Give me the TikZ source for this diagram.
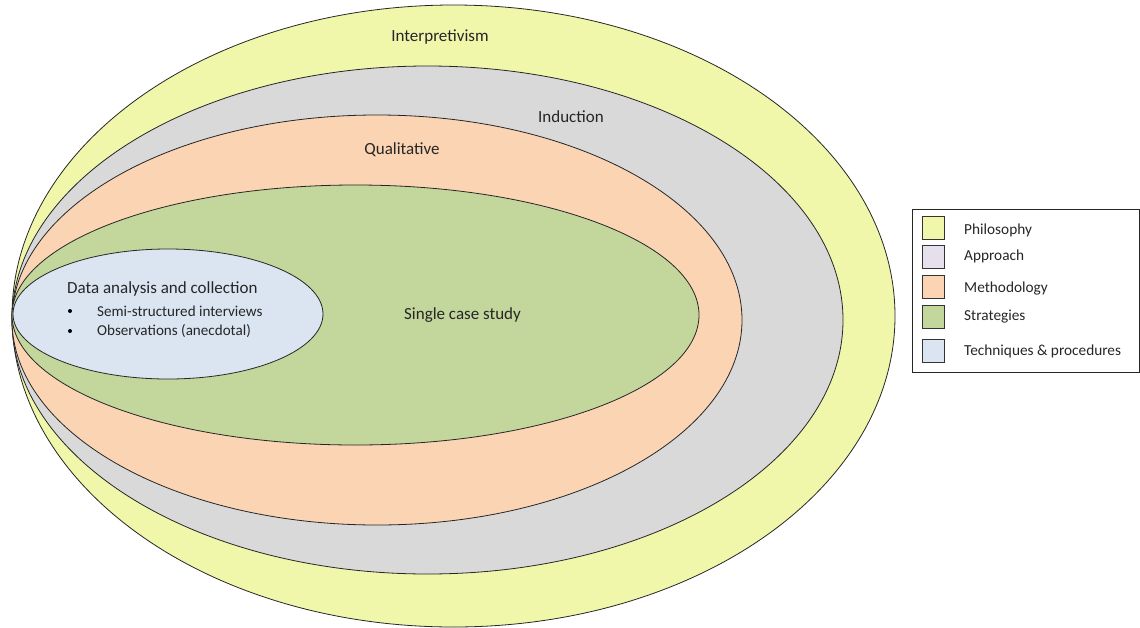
\documentclass[tikz,border=0pt]{standalone}
\usepackage{fontspec}
\setmainfont{Carlito}
\usetikzlibrary{shapes.geometric}
\definecolor{cyel}{HTML}{F0F7AA}
\definecolor{cgray}{HTML}{D9D9D9}
\definecolor{corange}{HTML}{FBD4B4}
\definecolor{cgreen}{HTML}{C3D69B}
\definecolor{cblue}{HTML}{DBE5F1}
\definecolor{clav}{HTML}{E5E0EC}
\definecolor{ctext}{HTML}{262626}
\begin{document}
\begin{tikzpicture}[x=1pt,y=-1pt,
  ring/.style={ellipse, draw=black!85, line width=0.8pt, inner sep=0pt, outer sep=0pt},
  lbl/.style={font=\fontsize{17}{20}\selectfont, text=ctext, inner sep=0pt},
  leg/.style={font=\fontsize{15.3}{18}\selectfont, text=ctext, inner sep=0pt},
  big/.style={font=\fontsize{17}{20}\selectfont, text=ctext, inner sep=0pt},
  small/.style={font=\fontsize{15.1}{18}\selectfont, text=ctext, inner sep=0pt},
  sw/.style={draw=black!80, line width=0.8pt, minimum width=22pt, minimum height=23pt, inner sep=0pt, outer sep=0pt}]
\useasboundingbox (0,0) rectangle (1140,627);
\node[ring, fill=cyel, minimum width=883pt, minimum height=622pt] (phil) at (453.5,316) {};
\node[ring, fill=cgray, minimum width=831pt, minimum height=508pt] (appr) at (427.5,320) {};
\node[ring, fill=corange, minimum width=730pt, minimum height=410pt] (meth) at (377,320) {};
\node[ring, fill=cgreen, minimum width=687pt, minimum height=260pt] (strat) at (355.5,315) {};
\node[ring, fill=cblue, minimum width=310pt, minimum height=130pt] (tech) at (168,314) {};
\node[lbl] (tphil) at (440,37) {Interpretivism};
\node[lbl] (tappr) at (571,117) {Induction};
\node[lbl] (tmeth) at (402,150) {Qualitative};
\node[lbl] (tstrat) at (462.5,315) {Single case study};
\node[big, anchor=west] (tdata) at (67,289) {Data analysis and collection};
\node[small, anchor=west] (b1) at (97,311) {Semi-structured interviews};
\node[small, anchor=west] (b2) at (97,331) {Observations (anecdotal)};
\fill[black] (70,311) circle (2pt) coordinate (d1);
\fill[black] (70,331) circle (2pt) coordinate (d2);
% legend
\node[draw=black!85, line width=0.8pt, minimum width=227pt, minimum height=163pt, inner sep=0pt] (legend) at (1025.5,290.5) {};
\node[sw, fill=cyel] (s1) at (933.5,228) {};
\node[sw, fill=clav] (s2) at (933.5,257) {};
\node[sw, fill=corange] (s3) at (933.5,287) {};
\node[sw, fill=cgreen] (s4) at (933.5,317) {};
\node[sw, fill=cblue] (s5) at (933.5,351) {};
\node[leg, anchor=west] (l1) at (964,230) {Philosophy};
\node[leg, anchor=west] (l2) at (964,256) {Approach};
\node[leg, anchor=west] (l3) at (964,288) {Methodology};
\node[leg, anchor=west] (l4) at (964,317) {Strategies};
\node[leg, anchor=west] (l5) at (964,351) {Techniques \& procedures};
\end{tikzpicture}
\end{document}
